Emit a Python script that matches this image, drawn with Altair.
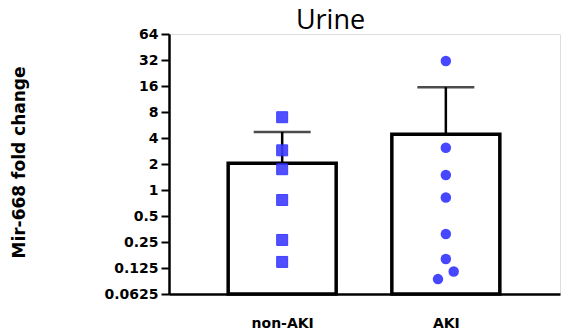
import altair as alt
import pandas as pd

categories = ["non-AKI", "AKI"]
means = [2.04, 4.41]
upper = [4.7, 15.5]
nonaki_vals = [6.96, 2.88, 1.74, 0.766, 0.264, 0.147]
aki_vals = [31.2, 3.09, 1.49, 0.82, 0.31, 0.159, 0.114, 0.093]
aki_jitter = [0, 0, 0, 0, 0, 0, 0.048, -0.048]
y_ticks = [0.0625, 0.125, 0.25, 0.5, 1, 2, 4, 8, 16, 32, 64]

W, H = 391, 260

bars = pd.DataFrame({"cat": categories, "pos": [1, 2], "mean": means, "upper": upper,
                     "base": [y_ticks[0]] * 2})
pts_sq = pd.DataFrame({"pos": [1] * len(nonaki_vals), "v": nonaki_vals})
pts_ci = pd.DataFrame({"pos": [2 + j for j in aki_jitter], "v": aki_vals})

xscale = alt.Scale(domain=[0.339, 2.667], nice=False, zero=False)
yscale = alt.Scale(type="log", base=2, domain=[0.0625, 64], nice=False)

xaxis = alt.Axis(values=[1, 2], labelExpr="datum.value == 1 ? 'non-AKI' : 'AKI'",
                 title=None, grid=False, ticks=False, labelPadding=22,
                 labelFont="DejaVu Sans", labelFontWeight="bold", labelFontSize=14,
                 labelColor="black", domainColor="black", domainWidth=2.5)
yaxis = alt.Axis(values=y_ticks, title="Mir-668 fold change", grid=False,
                 labelExpr="datum.value < 1 ? format(datum.value, '') : format(datum.value, 'd')",
                 labelFont="DejaVu Sans", labelFontWeight="bold", labelFontSize=14,
                 labelColor="black", labelPadding=3, tickSize=8, tickWidth=2, tickColor="black",
                 domainColor="black", domainWidth=2.5,
                 titleFont="DejaVu Sans", titleFontWeight="bold", titleFontSize=17,
                 titleColor="black", titleAngle=-90, titleX=-150, titleY=128,
                 titleAlign="center", titleBaseline="middle")

x = alt.X("pos:Q", scale=xscale, axis=xaxis)

bar = alt.Chart(bars).mark_bar(size=108, fill="white", stroke="black", strokeWidth=3.5).encode(
    x=x, y=alt.Y("mean:Q", scale=yscale, axis=yaxis), y2="base:Q")
err = alt.Chart(bars).mark_rule(color="black", strokeWidth=2.5).encode(
    x=x, y=alt.Y("mean:Q", scale=yscale), y2="upper:Q")
cap = alt.Chart(bars).mark_tick(orient="horizontal", size=57, thickness=2.5, color="black").encode(
    x=x, y=alt.Y("upper:Q", scale=yscale))
sq = alt.Chart(pts_sq).mark_point(shape="square", filled=True, size=120, color="#3d3dff",
                                  opacity=0.9, stroke="#2b2bff", strokeWidth=1).encode(
    x=x, y=alt.Y("v:Q", scale=yscale))
ci = alt.Chart(pts_ci).mark_point(shape="circle", filled=True, size=110, color="#3d3dff",
                                  opacity=0.95).encode(
    x=x, y=alt.Y("v:Q", scale=yscale))

chart = alt.layer(bar, err, cap, sq, ci).properties(
    width=W, height=H,
    title=alt.TitleParams("Urine", font="Open Sans", fontSize=27, fontWeight="normal",
                          color="black", anchor="middle", dx=-34, offset=-8),
    autosize=alt.AutoSizeParams(type="none"),
    padding={"left": 169, "top": 34, "right": 2, "bottom": 37},
).configure_view(stroke=None).configure(background="white")

chart.save("out.html", embed_options={"renderer": "svg", "actions": False})
